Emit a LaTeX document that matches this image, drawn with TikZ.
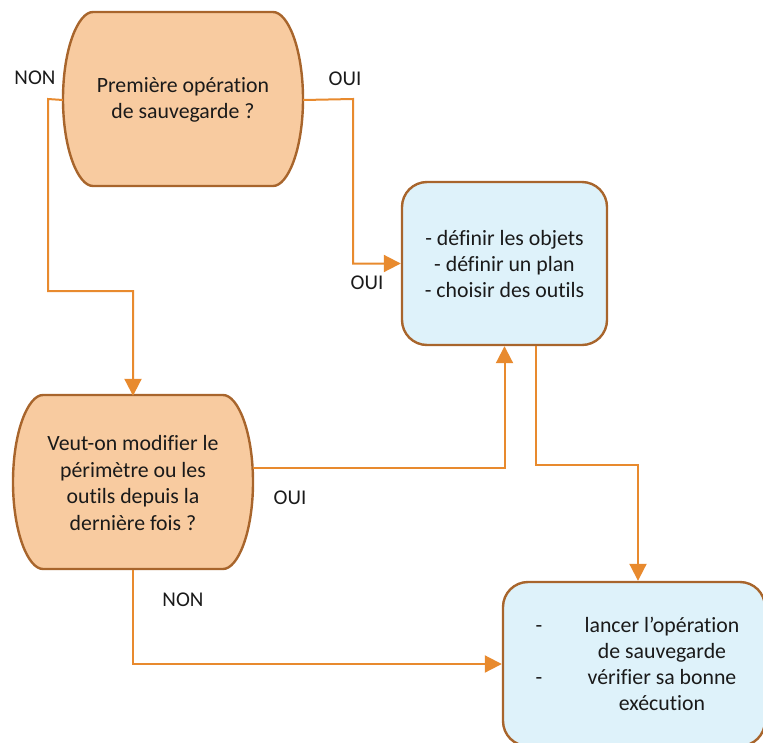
\documentclass[tikz,border=0pt]{standalone}
\usepackage{fontspec}
\setmainfont{Carlito}[Ligatures=NoCommon]
\usetikzlibrary{arrows.meta,calc}
\definecolor{peach}{HTML}{F8CBA0}
\definecolor{edgebrown}{HTML}{A8652C}
\definecolor{lineorange}{HTML}{E88A2E}
\definecolor{paleblue}{HTML}{DEF2FA}
\definecolor{txt}{HTML}{1A1A1A}
\newcommand\DecOutline[2]{%
  \draw[decshape,shift={(#1,#2)}] (-90,-87) -- (90,-87)
    .. controls (105,-87) and (120,-50) .. (120,0)
    .. controls (120,50) and (105,87) .. (90,87) -- (-90,87)
    .. controls (-105,87) and (-120,50) .. (-120,0)
    .. controls (-120,-50) and (-105,-87) .. (-90,-87) -- cycle;}
\begin{document}
\begin{tikzpicture}[x=1pt,y=-1pt,
  decshape/.style={draw=edgebrown,fill=peach,line width=2.4pt},
  decnode/.style={minimum width=240pt,minimum height=174pt,inner sep=0pt,align=center,
    font={\fontsize{21.8}{26.5}\selectfont},text=txt},
  actbox/.style={draw=edgebrown,fill=paleblue,line width=2.4pt,rounded corners=25pt,inner sep=0pt},
  bodytext/.style={align=center,font={\fontsize{21.8}{26}\selectfont},text=txt,inner sep=0pt},
  lbl/.style={font={\fontsize{21}{24}\selectfont},text=txt,inner sep=0pt},
  conn/.style={draw=lineorange,line width=2pt,-{Triangle[length=17pt,width=17pt]}}
]
\useasboundingbox (0,0) rectangle (763,742);
\clip (0,0) rectangle (763,742);

% decisions
\DecOutline{183}{99}
\node[decnode] (d1) at (183,100) {Première opération\\de sauvegarde ?};
\DecOutline{133}{482}
\node[decnode] (d2) at (133,483) {Veut-on modifier le\\périmètre ou les\\outils depuis la\\dernière fois ?};

% action boxes
\node[actbox,minimum width=205pt,minimum height=163pt] (b1) at (504.5,263.5) {};
\node[bodytext] (t1) at (504.5,264) {- définir les objets\\- définir un plan\\- choisir des outils};
\node[actbox,minimum width=262pt,minimum height=164pt] (b2) at (634,664) {};
\node[bodytext] (t2) at (662,664) {lancer l’opération\\de sauvegarde\\vérifier sa bonne\\exécution};
\node[bodytext] (m1) at (539,629) {-};
\node[bodytext] (m2) at (539,681) {-};

% labels
\node[lbl] (n1) at (35,78) {NON};
\node[lbl] (o1) at (345,79) {OUI};
\node[lbl] (o2) at (367,283) {OUI};
\node[lbl] (o3) at (290,498) {OUI};
\node[lbl] (n2) at (183,600) {NON};

% connectors
\draw[conn] (d1.west) -- (48,99) |- (133,291) -- (d2.north);
\draw[conn] (d1.east) -- (353,99) |- (b1.west);
\draw[conn] ($(d2.east)+(0,-15)$) -| (b1.south);
\draw[conn] ($(b1.south)+(31,0)$) -- ++(0,119) -| ($(b2.north)+(4,0)$);
\draw[conn] (d2.south) |- (b2.west);
\end{tikzpicture}
\end{document}
